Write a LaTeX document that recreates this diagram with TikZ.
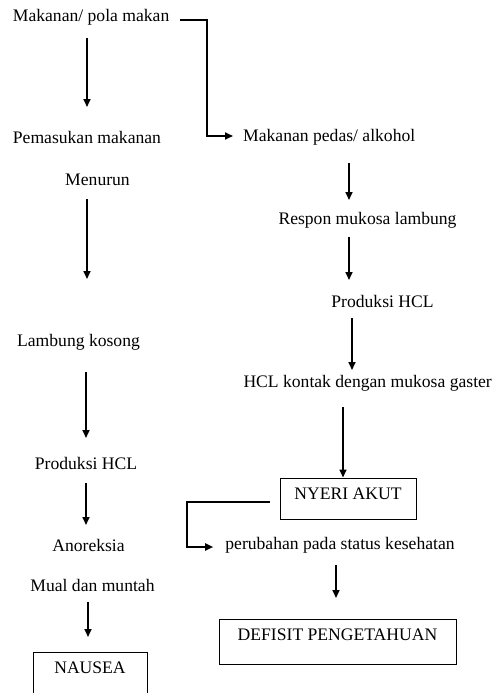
\documentclass[tikz,border=0pt]{standalone}
\usepackage{fontspec}
\setmainfont{Liberation Serif}
\usetikzlibrary{arrows.meta}
\begin{document}
\begin{tikzpicture}[x=1pt,y=-1pt,
  lbl/.style={inner sep=0pt, font=\fontsize{17.6}{20}\selectfont},
  boxed/.style={lbl, draw, line width=1pt},
  arr/.style={line width=1.6pt, -{Triangle[length=8pt,width=7pt]}},
  elb/.style={line width=1.8pt, -{Triangle[length=8pt,width=7pt]}}]
\useasboundingbox (0,0) rectangle (495,693);
% left column
\node[lbl, anchor=west] (mpm) at (12.7,17) {Makanan/ pola makan};
\node[lbl, anchor=west] (pem) at (12.7,137) {Pemasukan makanan};
\node[lbl] (men) at (97.5,180) {Menurun};
\node[lbl] (lk) at (78.5,342) {Lambung kosong};
\node[lbl] (ph1) at (86,463) {Produksi HCL};
\node[lbl] (ano) at (88.5,545) {Anoreksia};
\node[lbl] (mual) at (92.5,585) {Mual dan muntah};
\node[lbl] (nau) at (90,668) {NAUSEA};
% right column
\node[lbl, anchor=west] (mpa) at (243,137) {Makanan pedas/ alkohol};
\node[lbl] (resp) at (367.5,220) {Respon mukosa lambung};
\node[lbl] (ph2) at (382.5,301) {Produksi HCL};
\node[lbl, anchor=east] (hcl) at (492,383) {HCL kontak dengan mukosa gaster};
\node[boxed, minimum width=136pt, minimum height=41pt, text depth=9pt] (ny) at (348,498.5) {NYERI AKUT};
\node[lbl] (per) at (340,545) {perubahan pada status kesehatan};
\node[boxed, minimum width=237pt, minimum height=45pt, text depth=13pt] (def) at (337.5,641.5) {DEFISIT PENGETAHUAN};
% NAUSEA open-bottom box
\draw[line width=1pt] (33,693) -- (33,652) -- (147,652) -- (147,693);
% coordinates
\coordinate (a1s) at (87,38);  \coordinate (a1e) at (87,107);
\coordinate (a2s) at (87,199); \coordinate (a2e) at (87,279);
\coordinate (a3s) at (86,372); \coordinate (a3e) at (86,438);
\coordinate (a4s) at (86,483); \coordinate (a4e) at (86,525);
\coordinate (a5s) at (88,602); \coordinate (a5e) at (88,637);
\coordinate (b1s) at (349,163); \coordinate (b1e) at (349,200);
\coordinate (b2s) at (349,237); \coordinate (b2e) at (349,280);
\coordinate (b3s) at (352,318); \coordinate (b3e) at (352,370);
\coordinate (b4s) at (343,407);
\coordinate (b5s) at (336,565); \coordinate (b5e) at (336,598);
\coordinate (e1s) at (180,20);
\coordinate (e2s) at (270,502);
% arrows
\draw[arr] (a1s) -- (a1e);
\draw[arr] (a2s) -- (a2e);
\draw[arr] (a3s) -- (a3e);
\draw[arr] (a4s) -- (a4e);
\draw[arr] (a5s) -- (a5e);
\draw[arr] (b1s) -- (b1e);
\draw[arr] (b2s) -- (b2e);
\draw[arr] (b3s) -- (b3e);
\draw[arr] (b4s) -- (b4s |- ny.north);
\draw[arr] (b5s) -- (b5e);
% elbows
\draw[elb] (e1s) -- (207,20) -- (207,136) -- ([xshift=-10pt]mpa.west |- 0,136);
\draw[elb] (e2s) -- (187,502) -- (187,547) -- ([xshift=-12pt]per.west |- 0,547);
\end{tikzpicture}
\end{document}
